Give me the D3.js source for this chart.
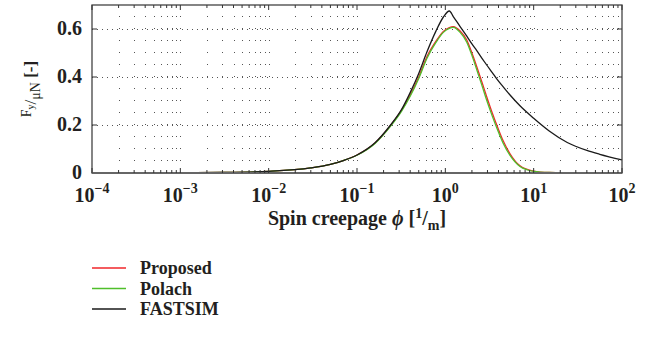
<!DOCTYPE html>
<meta charset="utf-8">
<style>
  body { margin: 0; background: #fff; }
  text { font-family: "Liberation Serif", "DejaVu Serif", serif; font-weight: bold; fill: #231f20; }
  .tick { font-size: 20px; }
  .title { font-size: 20px; }
  .legend { font-size: 18px; }
</style>
<body>
<script src="https://cdn.jsdelivr.net/npm/d3@7"></script>
<script>

// data
const phi = [1e-4, 3e-4, 1e-3, 3e-3, 0.01, 0.03, 0.05, 0.07, 0.1, 0.16, 0.24, 0.32, 0.4, 0.5, 0.62, 0.78, 0.95,
             1.11, 1.23, 1.47, 1.75, 2.0, 2.27, 2.6, 2.94, 3.4, 3.82, 4.5, 5.4, 7.0, 10, 15, 24, 40, 56, 100]

const proposed = [0.0001, 0.0002, 0.0007, 0.002, 0.0068, 0.021, 0.036, 0.052, 0.075, 0.125, 0.198, 0.262, 0.325, 0.4, 0.485, 0.548, 0.59,
                  0.606, 0.61, 0.592, 0.554, 0.5, 0.443, 0.378, 0.318, 0.25, 0.2, 0.135, 0.08, 0.03, 0.008, 0.002, 0.0005, 0, 0, 0]

const polach = [0.0001, 0.0002, 0.0007, 0.002, 0.0068, 0.021, 0.036, 0.052, 0.074, 0.123, 0.195, 0.258, 0.32, 0.394, 0.478, 0.543, 0.586,
                0.603, 0.607, 0.586, 0.545, 0.49, 0.43, 0.364, 0.303, 0.237, 0.188, 0.125, 0.073, 0.027, 0.007, 0.002, 0.0005, 0, 0, 0]

const fastsim = [0.0001, 0.0002, 0.0007, 0.002, 0.0068, 0.021, 0.036, 0.052, 0.075, 0.126, 0.2, 0.265, 0.335, 0.415, 0.505, 0.59, 0.65,
                 0.675, 0.652, 0.61, 0.57, 0.538, 0.51, 0.478, 0.45, 0.418, 0.392, 0.36, 0.325, 0.28, 0.228, 0.175, 0.127, 0.094, 0.078, 0.055]

const seriesNames = ["Proposed", "Polach", "FASTSIM"]
const seriesColors = ["#f0262a", "#4fbf2b", "#1a1a1a"]

const xDecades = [-4, -3, -2, -1, 0, 1, 2]
const yTicks = [0, 0.2, 0.4, 0.6]

const W = 653, H = 339
const margin = {top: 5, right: 31, bottom: 166, left: 92}
const width = W - margin.left - margin.right,
      height = H - margin.top - margin.bottom

const svg = d3.select("body").append("svg")
    .attr("width", W)
    .attr("height", H)

const g = svg.append("g")
    .attr("transform", `translate(${margin.left}, ${margin.top})`)

const x = d3.scaleLog().domain([1e-4, 1e2]).range([0, width])
const y = d3.scaleLinear().domain([0, 0.7]).range([height, 0])

// minor x values (2..9 times each decade) and decades
let xMinor = []
xDecades.slice(0, -1).forEach(p => {
  for (let k = 2; k <= 9; k++) xMinor.push(k * Math.pow(10, p))
})
const xMajor = xDecades.map(p => Math.pow(10, p))

// grid: vertical lines show as dots at each 0.05 step
const step = y(0) - y(0.05)
const gridV = xMinor.concat(xMajor.slice(1, -1))
g.append("g").selectAll("line")
  .data(gridV)
  .enter().append("line")
    .attr("x1", d => Math.round(x(d)) + 0.5)
    .attr("x2", d => Math.round(x(d)) + 0.5)
    .attr("y1", y(0) - step)
    .attr("y2", 0)
    .attr("stroke", "#555")
    .attr("stroke-width", 1)
    .attr("stroke-dasharray", `1,${step - 1}`)

g.append("g").selectAll("line")
  .data(yTicks.slice(1))
  .enter().append("line")
    .attr("x1", 0)
    .attr("x2", width)
    .attr("y1", d => Math.round(y(d)) + 0.5)
    .attr("y2", d => Math.round(y(d)) + 0.5)
    .attr("stroke", "#555")
    .attr("stroke-width", 1)
    .attr("stroke-dasharray", "1,4")

// curves
const line = d3.line()
  .x((d, i) => x(phi[i]))
  .y(d => y(d))
  .curve(d3.curveMonotoneX)

const allSeries = [proposed, polach, fastsim]
g.append("g").selectAll("path")
  .data(allSeries)
  .enter().append("path")
    .attr("d", d => line(d))
    .attr("fill", "none")
    .attr("stroke", (d, i) => seriesColors[i])
    .attr("stroke-width", 1.3)

// frame
g.append("rect")
  .attr("x", 0).attr("y", 0)
  .attr("width", width).attr("height", height)
  .attr("fill", "none")
  .attr("stroke", "#444")
  .attr("stroke-width", 1.3)

g.append("line")
  .attr("x1", 0).attr("x2", width)
  .attr("y1", height).attr("y2", height)
  .attr("stroke", "#666")
  .attr("stroke-width", 2.2)

// ticks, pointing in
const xTickData = xMinor.map(d => ({v: d, len: 3})).concat(xMajor.map(d => ({v: d, len: 5})))
;[0, height].forEach(edge => {
  const dir = edge === 0 ? 1 : -1
  g.append("g").selectAll("line")
    .data(xTickData)
    .enter().append("line")
      .attr("x1", d => x(d.v))
      .attr("x2", d => x(d.v))
      .attr("y1", edge)
      .attr("y2", d => edge + dir * d.len)
      .attr("stroke", "#333")
      .attr("stroke-width", 1)
})
;[0, width].forEach(edge => {
  const dir = edge === 0 ? 1 : -1
  g.append("g").selectAll("line")
    .data(yTicks.slice(1))
    .enter().append("line")
      .attr("x1", edge)
      .attr("x2", edge + dir * 5)
      .attr("y1", d => y(d))
      .attr("y2", d => y(d))
      .attr("stroke", "#333")
      .attr("stroke-width", 1)
})

// tick labels
const xLab = g.append("g").selectAll("text")
  .data(xDecades)
  .enter().append("text")
    .attr("class", "tick")
    .attr("x", d => x(Math.pow(10, d)))
    .attr("y", height + 29)
    .attr("text-anchor", "middle")
xLab.append("tspan").text("10")
xLab.append("tspan")
  .attr("dy", -9)
  .style("font-size", "14px")
  .text(d => d < 0 ? "\u2212" + (-d) : String(d))

g.append("g").selectAll("text")
  .data(yTicks)
  .enter().append("text")
    .attr("class", "tick")
    .attr("x", -10)
    .attr("y", d => y(d) + 6)
    .attr("text-anchor", "end")
    .text(d => d === 0 ? "0" : d.toFixed(1))

// axis titles
const xt = g.append("text")
  .attr("class", "title")
  .attr("x", width / 2)
  .attr("y", height + 52)
  .attr("text-anchor", "middle")
xt.append("tspan").text("Spin creepage ")
xt.append("tspan").style("font-style", "italic").text("\u03d5")
xt.append("tspan").text(" [")
xt.append("tspan").attr("dy", -7).style("font-size", "14px").text("1")
xt.append("tspan").attr("dy", 7).text("/")
xt.append("tspan").attr("dy", 5).style("font-size", "14px").text("m")
xt.append("tspan").attr("dy", -5).text("]")

const yt = svg.append("text")
  .attr("class", "title")
  .attr("transform", `translate(36, ${margin.top + height / 2}) rotate(-90)`)
  .attr("text-anchor", "middle")
  .style("font-size", "17px")
yt.append("tspan").attr("dy", -5).style("font-size", "14px").style("font-weight", "normal").text("F")
yt.append("tspan").attr("dy", 3).style("font-size", "10px").style("font-weight", "normal").text("y")
yt.append("tspan").attr("dy", 2).style("font-weight", "normal").text("/")
yt.append("tspan").attr("dy", 4).style("font-size", "14px").style("font-weight", "normal").text("\u03bcN")
yt.append("tspan").attr("dy", -4).text(" [-]")

// legend
const leg = svg.append("g")
  .attr("transform", "translate(92, 268)")
const item = leg.selectAll("g")
  .data(seriesNames)
  .enter().append("g")
    .attr("transform", (d, i) => `translate(0, ${i * 20.5})`)
item.append("line")
  .attr("x1", 0).attr("x2", 34)
  .attr("stroke", (d, i) => seriesColors[i])
  .attr("stroke-width", 1.3)
item.append("text")
  .attr("class", "legend")
  .attr("x", 48)
  .attr("y", 6)
  .text(d => d)

</script>
</body>
